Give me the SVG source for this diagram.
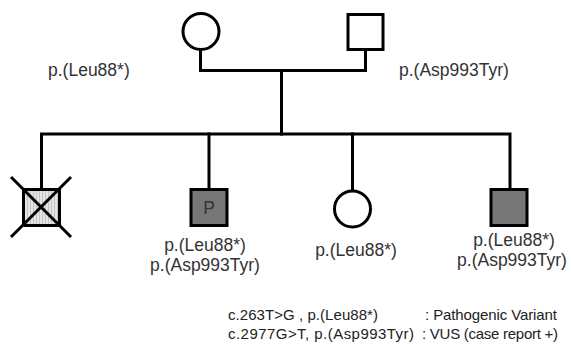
<svg xmlns="http://www.w3.org/2000/svg" width="571" height="344" viewBox="0 0 571 344">
<style>
.ln{fill:none;stroke:#000;stroke-width:3;stroke-linecap:square}
.sym{stroke:#000;stroke-width:3}
.t{font-family:"Liberation Sans",Arial,sans-serif;font-size:17.5px;fill:#333}
.lg{font-family:"Liberation Sans",Arial,sans-serif;font-size:15px;fill:#222}
</style>
<defs>
<pattern id="hatch" width="3" height="4" patternUnits="userSpaceOnUse">
<rect width="3" height="4" fill="#e4e4e4"/>
<rect width="1" height="4" fill="#c2c2c2"/>
</pattern>
</defs>
<g id="connectors">
<path class="ln" d="M200.5 50 V70.5 H365.5 V50"/>
<path class="ln" d="M281.5 70.5 V134"/>
<path class="ln" d="M41.5 189 V134 H510 V189"/>
<path class="ln" d="M209 134 V189"/>
<path class="ln" d="M352.5 134 V191"/>
</g>
<g id="mother">
<circle class="sym" cx="201" cy="31.5" r="18" fill="#fff"/>
<text class="t" x="48" y="76">p.(Leu88*)</text>
</g>
<g id="father">
<rect class="sym" x="348" y="14.5" width="35" height="35" fill="#fff"/>
<text class="t" x="399" y="76">p.(Asp993Tyr)</text>
</g>
<g id="child1">
<rect class="sym" x="23.5" y="189.5" width="36" height="36" fill="url(#hatch)"/>
<line class="sym" x1="11" y1="177" x2="71" y2="237"/>
<line class="sym" x1="71" y1="177" x2="11" y2="237"/>
</g>
<g id="child2">
<rect class="sym" x="191" y="189.5" width="36" height="36" fill="#767676"/>
<text class="t" x="209" y="214" text-anchor="middle" fill="#3a3a3a">P</text>
<text class="t" x="205" y="251" text-anchor="middle">p.(Leu88*)</text>
<text class="t" x="205" y="271" text-anchor="middle">p.(Asp993Tyr)</text>
</g>
<g id="child3">
<circle class="sym" cx="352.5" cy="209" r="18" fill="#fff"/>
<text class="t" x="356" y="256" text-anchor="middle">p.(Leu88*)</text>
</g>
<g id="child4">
<rect class="sym" x="491" y="189.5" width="36" height="36" fill="#767676"/>
<text class="t" x="514" y="246" text-anchor="middle">p.(Leu88*)</text>
<text class="t" x="512" y="266" text-anchor="middle">p.(Asp993Tyr)</text>
</g>
<g id="legend">
<text class="lg" x="228" y="320" textLength="150" lengthAdjust="spacing">c.263T&gt;G , p.(Leu88*)</text>
<text class="lg" x="425" y="320" textLength="132" lengthAdjust="spacing">: Pathogenic Variant</text>
<text class="lg" x="228" y="339" textLength="186" lengthAdjust="spacing">c.2977G&gt;T, p.(Asp993Tyr)</text>
<text class="lg" x="422" y="339" textLength="136" lengthAdjust="spacing">: VUS (case report +)</text>
</g>
</svg>
